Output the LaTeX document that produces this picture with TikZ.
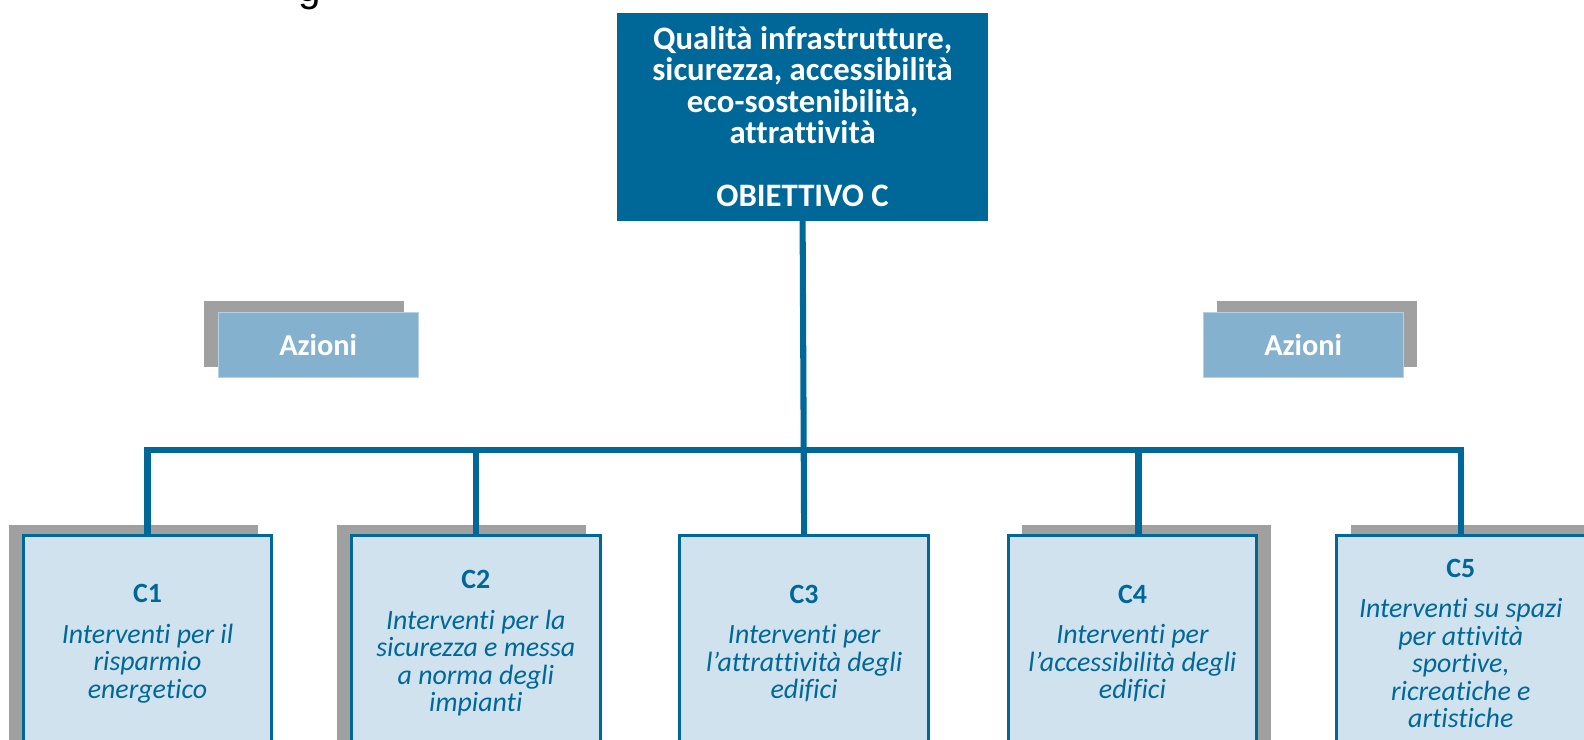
\documentclass[tikz,border=0pt]{standalone}
\usepackage{fontspec}
\setmainfont{Carlito}[Ligatures=NoCommon]
\newfontfamily\titlefont{Liberation Sans}
\usetikzlibrary{shadows}
\definecolor{obblue}{RGB}{0,104,153}
\definecolor{boxfill}{RGB}{208,226,237}
\definecolor{azfill}{RGB}{132,177,206}
\definecolor{shadowgray}{RGB}{160,160,160}
\begin{document}
\begin{tikzpicture}[x=0.5pt, y=-0.5pt,
    link/.style={draw=obblue, line width=3pt},
    goalbox/.style={fill=obblue, text=white, font=\bfseries\fontsize{16.2}{15.6}\selectfont,
      align=center, minimum width=183.5pt, minimum height=103pt, inner sep=0pt},
    actbox/.style={draw=obblue, line width=1.5pt, fill=boxfill, text=obblue,
      font=\itshape\fontsize{13.8}{13.6}\selectfont, align=center,
      minimum width=123pt, minimum height=106.5pt, inner sep=0pt},
    azbox/.style={fill=azfill, draw=azfill!60!white, line width=0.4pt, text=white,
      font=\bfseries\fontsize{15}{18}\selectfont, minimum width=99pt, minimum height=32.5pt, inner sep=0pt},
    leftshadow/.style={general shadow={fill=shadowgray, shadow xshift=-7pt, shadow yshift=5.5pt}},
    rightshadow/.style={general shadow={fill=shadowgray, shadow xshift=7pt, shadow yshift=5.5pt}}]
    \useasboundingbox (0,0) rectangle (1568,731.6);
    \begin{scope}[overlay]
    \clip (0,0) rectangle (1568,731.6);
    \node[anchor=base, font=\titlefont\fontsize{20}{24}\selectfont] (title) at (307,1) {g};
    \node[goalbox] (goal) at (794.5,115.5) {Qualità infrastrutture,\\ sicurezza, accessibilità\\ eco-sostenibilità,\\ attrattività\\[15.6pt] OBIETTIVO C};
    \node[azbox, leftshadow] (azl) at (315,341.5) {Azioni};
    \node[azbox, rightshadow] (azr) at (1290,341.5) {Azioni};
    \node[actbox, leftshadow] (c1) at (146,637) {{\upshape\bfseries C1}\\[6.5pt] Interventi per il\\ risparmio\\ energetico};
    \node[actbox, leftshadow] (c2) at (471,637) {{\upshape\bfseries C2}\\[6.5pt] Interventi per la\\ sicurezza e messa\\ a norma degli\\ impianti};
    \node[actbox] (c3) at (796,637) {{\upshape\bfseries C3}\\[6.5pt] Interventi per\\ l’attrattività degli\\ edifici};
    \node[actbox, rightshadow] (c4) at (1121,637) {{\upshape\bfseries C4}\\[6.5pt] Interventi per\\ l’accessibilità degli\\ edifici};
    \node[actbox, rightshadow] (c5) at (1446,637) {{\upshape\bfseries C5}\\[6.5pt] Interventi su spazi\\ per attività\\ sportive,\\ ricreatiche e\\ artistiche};
    \coordinate (bar) at (796,445);
    \draw[link] (goal.south) -- (c3.north);
    \draw[link] (c1.north) |- (bar) -| (c5.north);
    \draw[link] (c2.north) -- (c2.north |- bar);
    \draw[link] ([xshift=3pt]c4.north) -- ([xshift=3pt]c4.north |- bar);
    \end{scope}
\end{tikzpicture}
\end{document}
